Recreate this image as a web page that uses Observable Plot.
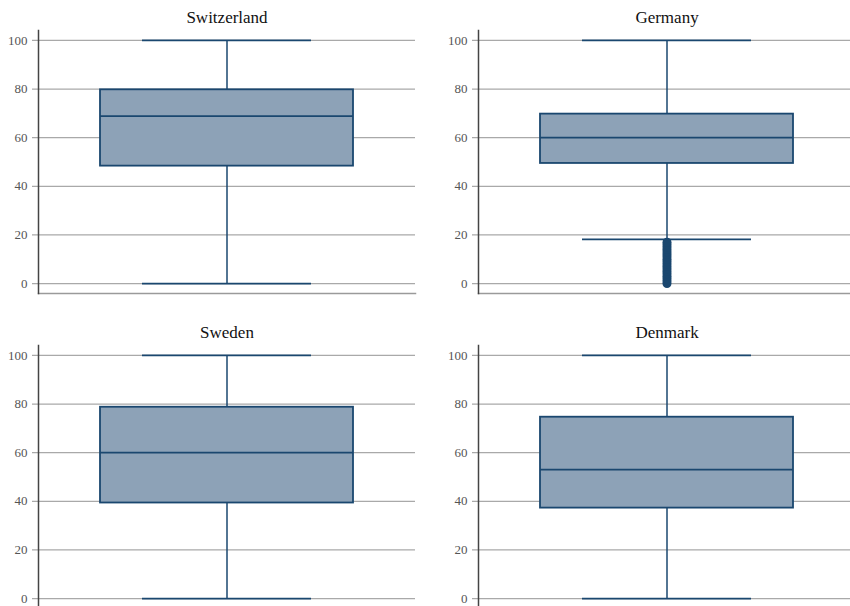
<!DOCTYPE html>
<html>
<head>
<meta charset="utf-8">
<script src="https://cdn.jsdelivr.net/npm/d3@7"></script>
<script src="https://cdn.jsdelivr.net/npm/@observablehq/plot@0.6"></script>
<style>
  html, body { margin: 0; padding: 0; background: #fff; }
  #wrap { position: relative; width: 850px; height: 606px; overflow: hidden; background: #fff; }
  .panel { position: absolute; }
  .panel svg { max-width: none !important; }
</style>
</head>
<body>
<div id="wrap"></div>
<script>
// Data (values on a 0–100 scale)
const countries     = ["Switzerland", "Germany", "Sweden", "Denmark"];
const lowerWhisker  = [0, 18.2, 0, 0];
const lowerQuartile = [48.3, 49.4, 39.3, 37.2];
const medians       = [68.9, 60, 60, 53];
const upperQuartile = [79.7, 69.7, 78.7, 74.6];
const upperWhisker  = [100, 100, 100, 100];
const germanyOutliers = [0, 1, 2, 3, 4, 5, 6, 7, 8, 9, 10, 11, 12, 13, 14, 15, 16, 17];
const yTicks = [0, 20, 40, 60, 80, 100];

const navy = "#1a476f";
const boxFill = "#8da2b7";

// layout: [left, top, width, marginLeft, marginRight]
const layout = [
  [0, 0, 425, 38, 10],
  [425, 0, 430, 53, 0],
  [0, 315, 425, 38, 10],
  [425, 315, 430, 53, 0]
];

const wrap = document.getElementById("wrap");

countries.forEach((name, i) => {
  const [left, top, width, mL, mR] = layout[i];
  const row = [{
    country: name,
    lo: lowerWhisker[i],
    q1: lowerQuartile[i],
    med: medians[i],
    q3: upperQuartile[i],
    hi: upperWhisker[i]
  }];
  const outliers = name === "Germany" ? germanyOutliers.map(v => ({country: name, v})) : [];

  const chart = Plot.plot({
    width,
    height: 303,
    marginTop: 30,
    marginBottom: 10,
    marginLeft: mL,
    marginRight: mR,
    style: {fontFamily: "Liberation Serif", fontSize: "13px", background: "transparent", overflow: "visible"},
    x: {type: "band", domain: [name], paddingInner: 0, paddingOuter: 0.245, axis: null},
    y: {domain: [-4.1, 104.1], axis: null},
    marks: [
      Plot.ruleY(yTicks, {stroke: "#a9a9a9", strokeWidth: 1.2, insetLeft: -6}),
      Plot.axisY(yTicks, {tickSize: 0, tickPadding: 11, fill: "#555", fontSize: 13}),
      Plot.frame({anchor: "bottom", stroke: "#9a9a9a", strokeWidth: 1.5}),
      Plot.frame({anchor: "left", stroke: "#444", strokeWidth: 1.5}),
      Plot.ruleX(row, {x: "country", y1: "lo", y2: "hi", stroke: navy, strokeWidth: 1.5}),
      Plot.tickY(row, {x: "country", y: "lo", insetLeft: 42, insetRight: 42, stroke: navy, strokeWidth: 1.8}),
      Plot.tickY(row, {x: "country", y: "hi", insetLeft: 42, insetRight: 42, stroke: navy, strokeWidth: 1.8}),
      Plot.barY(row, {x: "country", y1: "q1", y2: "q3", fill: boxFill, stroke: navy, strokeWidth: 1.8}),
      Plot.tickY(row, {x: "country", y: "med", stroke: navy, strokeWidth: 1.8}),
      Plot.dot(outliers, {x: "country", y: "v", r: 4.5, fill: navy, stroke: null}),
      Plot.text([name], {frameAnchor: "top", lineAnchor: "middle", dy: -13, text: d => d, fontSize: 17, fill: "#111", fontFamily: "Liberation Serif"})
    ]
  });
  const div = document.createElement("div");
  div.className = "panel";
  div.style.left = left + "px";
  div.style.top = top + "px";
  div.style.width = width + "px";
  div.appendChild(chart);
  wrap.appendChild(div);
});
</script>
</body>
</html>
